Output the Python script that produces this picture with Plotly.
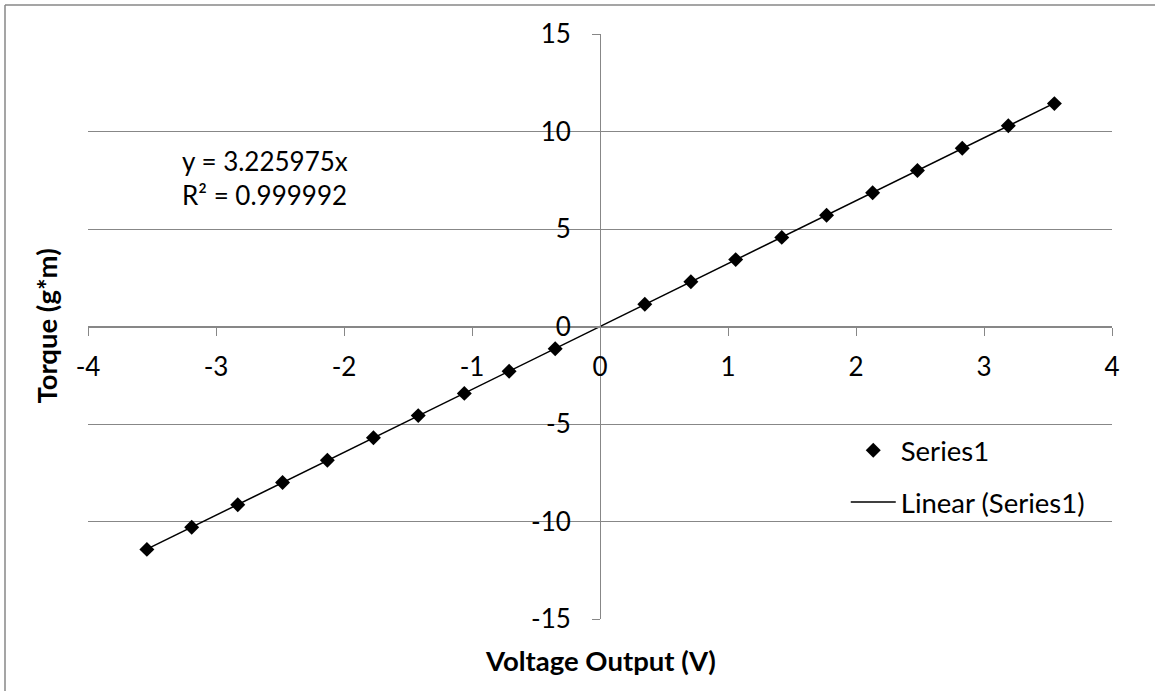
import plotly.graph_objects as go

# ---- data ----
volts = [-3.54, -3.19, -2.83, -2.48, -2.13, -1.77, -1.42, -1.06, -0.71, -0.35,
         0.35, 0.71, 1.06, 1.42, 1.77, 2.13, 2.48, 2.83, 3.19, 3.55]
torque = [-11.43, -10.29, -9.14, -8.00, -6.86, -5.71, -4.57, -3.43, -2.29, -1.14,
          1.14, 2.29, 3.43, 4.57, 5.71, 6.86, 8.00, 9.14, 10.29, 11.43]
slope = 3.225975
r2 = 0.999992

x_tickvals = [-4, -3, -2, -1, 0, 1, 2, 3, 4]
x_ticktext = ["-4", "-3", "-2", "-1", "0", "1", "2", "3", "4"]
y_tickvals = [-15, -10, -5, 0, 5, 10, 15]
y_ticktext = ["-15", "-10", "-5", "0", "5", "10", "15"]

series_name = "Series1"
trend_name = "Linear (Series1)"
x_title = "Voltage Output (V)"
y_title = "Torque (g*m)"

FONT = "Lato, Carlito, Calibri, 'Open Sans', sans-serif"
GRID = "#878787"

trend_x = [min(volts), max(volts)]
trend_y = [slope * v for v in trend_x]

fig = go.Figure()
fig.add_trace(go.Scatter(
    x=volts, y=torque, mode="markers", name=series_name, legendgroup="a",
    marker=dict(symbol="diamond", size=11.5, color="black",
                line=dict(width=0))))
fig.add_trace(go.Scatter(
    x=trend_x, y=trend_y, mode="lines", name=trend_name, legendgroup="b",
    line=dict(color="black", width=1.5)))

fig.update_layout(
    width=1155, height=691,
    margin=dict(l=88, r=43, t=34, b=72),
    paper_bgcolor="white", plot_bgcolor="white",
    font=dict(family=FONT, size=26, color="black"),
    showlegend=True,
    legend=dict(x=0.740, y=0.330, xanchor="left", yanchor="top",
                bgcolor="rgba(0,0,0,0)", tracegroupgap=13,
                font=dict(size=27.5), itemwidth=45),
    xaxis=dict(range=[-4, 4], tickvals=x_tickvals, ticktext=x_ticktext,
               anchor="free", position=0.5, showgrid=False, zeroline=False,
               showline=True, linecolor=GRID, linewidth=1,
               ticks="outside", ticklen=8, tickcolor=GRID, tickwidth=1,
               ticklabelstandoff=9, tickfont=dict(size=26)),
    yaxis=dict(range=[-15, 15], tickvals=y_tickvals, ticktext=y_ticktext,
               anchor="free", position=0.5, showgrid=True, gridcolor=GRID,
               gridwidth=1, zeroline=False,
               showline=True, linecolor=GRID, linewidth=1,
               ticks="outside", ticklen=8, tickcolor=GRID, tickwidth=1,
               ticklabelstandoff=16, tickfont=dict(size=26)),
)

# equation / R^2 label
fig.add_annotation(
    xref="paper", yref="paper", x=(180 - 88) / 1024, y=(619 - 177.5) / 585,
    xanchor="left", yanchor="middle", align="left", showarrow=False,
    text=f"y = {slope:.6f}x<br>R² = {r2:.6f}", font=dict(size=26))

# axis titles
fig.add_annotation(
    xref="paper", yref="paper", x=0.5, y=(619 - 660) / 585,
    xanchor="center", yanchor="middle", showarrow=False,
    text=f"<b>{x_title}</b>", font=dict(size=27.5))
fig.add_annotation(
    xref="paper", yref="paper", x=(46 - 88) / 1024, y=0.5,
    xanchor="center", yanchor="middle", showarrow=False, textangle=-90,
    text=f"<b>{y_title}</b>", font=dict(size=27.5))

# chart-area border (only top and left edges visible in the crop)
fig.add_shape(type="line", xref="paper", yref="paper",
              x0=(5 - 88) / 1024, x1=(1160 - 88) / 1024,
              y0=(619 - 5) / 585, y1=(619 - 5) / 585,
              line=dict(color=GRID, width=1.5))
fig.add_shape(type="line", xref="paper", yref="paper",
              x0=(5 - 88) / 1024, x1=(5 - 88) / 1024,
              y0=(619 - 5) / 585, y1=(619 - 700) / 585,
              line=dict(color=GRID, width=1.5))

fig.write_html("out.html",
               config={"displayModeBar": False},
               post_script="document.body.style.margin='0px';"
                           "document.body.style.overflow='hidden';")
